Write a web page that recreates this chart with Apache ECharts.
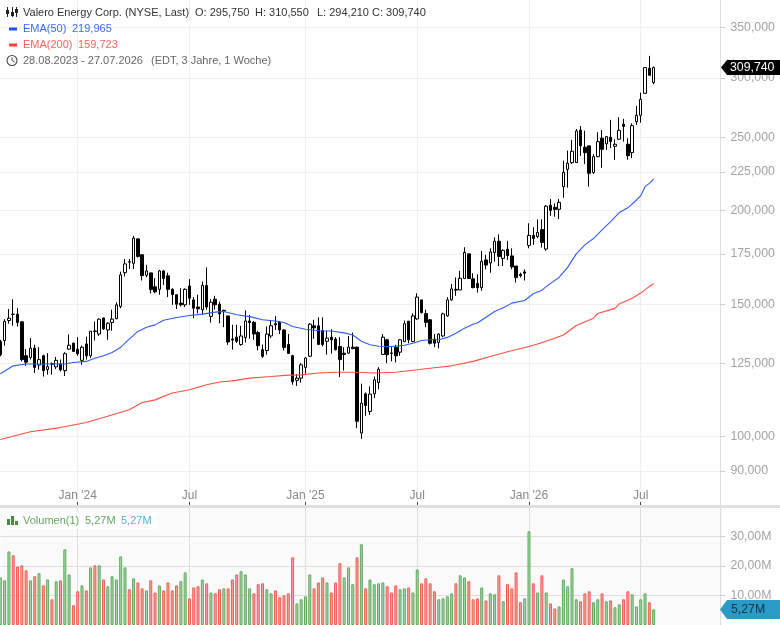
<!DOCTYPE html>
<html><head><meta charset="utf-8">
<style>html,body{margin:0;padding:0;background:#fff}#c{width:780px;height:625px}</style>
<script src="https://cdn.jsdelivr.net/npm/echarts@6/dist/echarts.min.js"></script>
</head><body><div id="c"></div>
<script>
const startDate = '2023-08-28';
const blankWeeks = 16;
// weekly candles: [open, close, low, high]
const candles = [
[133.8,128.5,127.9,134.5],[134.2,142.3,132.1,143.3],[142.7,143.7,141.3,147.8],[145.5,145.4,140.4,152.3],[145.5,141.8,140.1,148.2],
[142.1,126.6,125.9,142.4],[128.1,125.6,124.2,130.7],[127.4,131.1,126.6,135.2],[131.1,123.6,121.5,132.5],[124.5,126.6,122.7,131.5],
[128.1,122.4,120.2,128.5],[122.8,123.9,120.9,129.1],[124.8,125,120.9,125.5],[123.8,126.3,123,127.6],[124.9,122.7,122.1,126.6],
[122.4,128.9,120.4,129.5],[130.7,132.3,130.5,136.8],[133.1,129.8,129.7,133.4],[130.7,128.9,128.1,135.6],[126.3,131.5,124.6,132.1],
[132.8,128.1,126.6,135.8],[128.1,138.1,127.2,138.1],[138,138.2,134.2,142.3],[136.9,143.3,136.1,143.7],[143.8,139.1,138.6,144],
[138.6,141.5,134.5,141.9],[141.8,143.3,138.3,147.5],[143.5,149.7,143.2,150.9],[149,164.1,148.1,165.7],[165.2,169.7,163.3,172.3],
[170.6,170.8,167.1,172.3],[170,183.6,167.1,184.9],[183.2,173.6,173,183.6],[174.5,163.7,161.3,174.8],[163.9,166.1,162.9,169.2],
[165.1,156.9,155,165.2],[158.2,155.8,155.1,162.4],[157,166.1,154.4,166.6],[166.1,162.3,159.1,166.6],[163.6,157,153.3,165.2],
[157,154.5,149.7,157.5],[154.4,150,147.8,154.5],[150.5,149.7,149,157.5],[149.7,157,148.7,157.5],[158.6,152.8,149.7,162],
[152,148.2,143.7,153.3],[148.7,147.9,145.8,154.4],[147.5,158.9,145.2,160.8],[158.9,148.7,147.5,167.9],[144.5,150.9,141.8,152.3],
[152.3,149.7,147.5,153.9],[150,145.6,141.5,151.2],[147.2,146.9,139.8,147.5],[144.7,133.6,132.4,144.8],[134.8,134.4,130.5,140.8],
[135.6,133.9,133.2,140.8],[132.6,136.1,132.1,140.4],[135.4,142.5,133.4,147.2],[142.5,141.8,134.9,145.2],[141.9,136.9,134.5,142.5],
[137.5,132.1,130.2,138.3],[130.5,127.9,127.2,132.6],[130.2,136.9,128.5,140.1],[136.1,140.4,135.2,142.5],[141.3,140.8,138.6,144.7],
[141.9,138.6,136.9,142.5],[138.6,131.4,130.2,138.9],[132.6,129,128.9,136.9],[128.1,118.3,117.2,128.5],[118.8,119.6,116.8,121.1],
[119.6,124.6,118,125.2],[123.6,127.2,121.2,127.6],[127.9,141.1,127.6,141.6],[140.4,139.5,134.9,143],[140.4,132.6,132.6,144.1],
[138.3,132.6,131.8,144.1],[133.9,135.2,128.5,138.3],[135.6,134.5,128.9,138.9],[134.8,130.5,130.2,135.6],[131.8,126.6,120,135.6],
[129.1,128.6,122.4,131.5],[129.1,131.5,128.9,136.1],[131.5,130.9,130.7,137.5],[131.5,104.8,102.6,131.8],[101.1,110.8,99.3,117.6],
[114,110,106.6,114.5],[108,113.9,106.9,116.6],[114,119,112.5,120.2],[118,122.9,115.6,123.7],[128.6,135.6,128.4,136.9],
[134.5,128.5,125.2,134.9],[129.2,129,125.9,131.8],[131.5,128.1,125.5,132.5],[129.5,134.5,128.1,134.8],[133.8,141.3,133.5,142.7],
[142.4,134.5,133.1,142.4],[133.8,144.7,133.5,145.8],[143.4,153.3,143,155.1],[152,146.2,145.8,152],[145.8,141.8,139.8,147.5],
[143,133.1,132.6,143.3],[134.8,133.1,131.5,136.9],[133.4,136.9,131,137.2],[136.1,145.6,135.6,146.2],[144.7,152,144.4,153.3],
[152,157.2,151.7,159.6],[156.6,157,153.9,162.8],[156.7,162.4,156.7,166.1],[162.3,175.8,162.1,178.6],[175,162.3,162,175],
[162.1,157.8,157.5,164.9],[159.9,157.8,155.4,164.4],[157.8,171.1,156.3,176.6],[171.8,169.1,166.9,174.5],[170.2,176,165.2,178],
[175.7,181.9,170.9,184.1],[181.9,173.6,168.6,185.8],[172.6,176.9,168.6,177.5],[177.5,174.1,171.8,182.1],[173.9,168.1,166.9,178],
[168.6,162.8,160.3,168.6],[164.4,163.7,162.8,165.2],[165.6,164.9,161.3,166.9],[179.6,185.2,178,192.2],[185.2,183.4,179.9,189.9],
[184.5,186.9,183.6,194.5],[188.6,181.2,178.4,194.5],[177.6,202.5,176.7,203.3],[203.1,199.9,196.6,207],[201.8,200.5,196.1,204.2],
[200.6,204.9,194.7,207],[215,224.7,207.8,232.8],[226.7,231,214.4,240.1],[231.4,239.6,230.5,248.1],[231.4,255,231.4,256.5],
[255.7,243.6,236.2,258.9],[242.6,238.6,230.5,255.2],[243.6,224,215,243.6],[224.5,235.7,223.6,237.6],[235.7,246.8,235.3,254],
[249.4,241.1,227.8,255.7],[245.1,250.6,240.6,251.1],[250.1,246.8,241.8,263.8],[243.3,244.8,233.4,248.6],[248.6,255.5,248.1,265.9],
[260.3,258.5,246.8,264.6],[244.8,236.4,233.4,249.4],[238.6,259.2,234.6,261],[262.4,267.5,259.8,275.3],[267.5,280.9,261.6,286.8],
[286.1,309.6,286.1,309.6],[308.9,302.4,302.2,320.9],[295.75,309.74,294.21,310.55]
];
// volume in millions
const volumes = [
16.1,15.1,24.9,23.6,19.8,20.2,18.5,15.1,16.5,17.5,
13.4,15.4,8.7,14.8,15.1,25.6,17.1,6.7,11.4,13.4,
11.7,19.5,20.2,20.2,15.4,13.1,16.5,15.4,23.2,19.5,
12.1,15.8,14.4,12.4,11.7,15.1,11,13.4,11.7,14.4,
11.7,13.4,14.8,17.8,9,12.7,13.1,15.4,14.1,11,
10.7,12.1,12.4,12.4,15.4,17.1,18.2,17.1,12.4,10.7,
13.8,14.1,12.1,10.7,11.7,9.4,10,10.7,22.9,7.3,
8.7,9.7,17.1,12.4,14.4,16.1,14.4,11,14.4,20.9,
16.1,19.5,13.8,22.9,27.3,12.4,15.4,13.8,14.1,14.4,
13.1,11,13.4,12.1,12.4,12.7,11,18.8,14.1,15.8,
14.1,11.4,8.7,9,9.7,10.7,14.1,16.8,16.1,14.8,
8.7,9,12.7,8.3,10.7,10.4,16.8,8,13.8,12.4,
17.8,7.7,9,31.7,14.1,11,16.8,11,7.3,5.6,
6.3,15.4,13.1,19.2,8.7,8,10.7,11.4,7.7,8.7,
10.7,8,8.3,6,7,8.7,11.4,10.4,6.3,8.7,
10.7,7.7,5.27
];
// G = green bar, R = red bar
const volumeColors = 'GGGRRRRGRG'+'RGRGRGGRRG'+'RGRGRGGGGG'+'RGRRGRRGRR'+'RRGGRRRGRG'+'RRGRRRGGGR'+'RRGGRRRRRG'+'GGGRRRGRRR'+'GGGRGRGGGG'+'RRRGGRGGRR'+'RRGGGGRGGR'+'RRGRGGRGRR'+'RRGGRGRGRR'+'GGGGGRRRGG'+'RGRGGRRGGG'+'GRG';
// EMA readings: [week index, value]
const ema50 = [[0,121.2],[3,124.2],[6,124.9],[10,124.9],[15,124.9],[17,125.5],[20,125.9],[22,127.1],[24,128.1],[26,129.4],[28,131.5],[30,134.8],[32,138],[34,139.8],[36,140.8],[38,142.8],[41,144],[44,144.9],[47,145.5],[50,146.4],[52,146.7],[55,145.2],[58,144.4],[61,143],[64,142.5],[66,141.8],[68,140.1],[71,138.9],[74,138.3],[77,138.2],[80,137.4],[82,136.5],[84,133.9],[86,132.5],[88,131.9],[91,131.8],[94,132.3],[96,133.1],[98,134.2],[100,134.5],[102,134.5],[104,135.5],[106,137.2],[108,139.4],[110,141.1],[111,141.6],[113,144.1],[115,146.7],[117,148.4],[119,150.5],[122,151.7],[124,154.9],[126,156.6],[128,159.9],[130,162.8],[132,167.9],[134,175],[136,179.9],[138,183.4],[140,188.3],[142,193.2],[144,198.6],[146,201.5],[148,206.4],[149,209.1],[150,215],[151,217.2],[152,219.97]];
const ema200 = [[0,99.1],[7,101.5],[14,102.8],[20,104.4],[24,106],[30,108.6],[33,111],[36,111.9],[40,114.3],[44,115.4],[48,117.2],[51,118.2],[54,118.6],[58,119.6],[63,120.2],[67,120.7],[70,120.8],[74,121.5],[78,121.8],[83,121.8],[87,121.5],[92,121.8],[97,122.7],[101,123.5],[105,124.2],[110,125.9],[114,127.8],[118,129.7],[123,131.8],[125,132.8],[128,134.5],[131,136.5],[134,140.5],[138,143.7],[139,145.8],[143,148.1],[144,150.1],[147,152.8],[149,155.2],[151,158.4],[152,159.72]];
const xTickIndex = [18,44,71,97,123,149];
const xTickLabels = ["Jan '24",'Jul',"Jan '25",'Jul',"Jan '26",'Jul'];
const priceTicks = [90,100,125,150,175,200,225,250,300,350];
const volumeTicks = [10,20,30];
const lastClose = 309.74, lastVolume = 5.27;
const headerRows = [
 ['Valero Energy Corp. (NYSE, Last)',23,13,'#333'],['O: 295,750',195,13,'#333'],['H: 310,550',255,13,'#333'],['L: 294,210',317,13,'#333'],['C: 309,740',372,13,'#333'],
 ['EMA(50)',23,29,'#3d6af2'],['219,965',72,29,'#3d6af2'],
 ['EMA(200)',23,45,'#f4655c'],['159,723',78,45,'#f4655c'],
 ['28.08.2023 - 27.07.2026',23,61,'#666'],['(EDT, 3 Jahre, 1 Woche)',151,61,'#666'],
 ['Volumen(1)',23,521,'#62a862'],['5,27M',85,521,'#62a862'],['5,27M',121,521,'#4fb0d8']
];
const FONT = '"Liberation Sans", Arial, sans-serif';
const categories = [];
{ const d0 = new Date(startDate+'T00:00:00Z');
  for (let i=0;i<candles.length+blankWeeks;i++){ categories.push(new Date(d0.getTime()+i*7*864e5).toISOString().slice(0,10)); } }
const isTick = (i)=>xTickIndex.indexOf(i)>=0;
const GL=0.34, GW=722.06;
const chart = echarts.init(document.getElementById('c'),null,{renderer:'canvas'});
function txt(t,x,y,fill,size,z){return {type:'text',z:z||50,silent:true,style:{text:t,x:x,y:y,fill:fill,font:(size||11)+'px '+FONT,textVerticalAlign:'middle',textAlign:'left'}};}
function ln(x1,y1,x2,y2,c,w){return {type:'line',z:50,silent:true,shape:{x1,y1,x2,y2},style:{stroke:c,lineWidth:w||1}};}
function rc(x,y,w,h,c,z){return {type:'rect',z:z||50,silent:true,shape:{x,y,width:w,height:h},style:{fill:c}};}
let gfx=[
 rc(0,505,780,3,'#e0e0e0',40),
 rc(5,512,153,17,'#ffffff',45),
 ln(7.5,7,7.5,17,'#222'),rc(6,10,3,4,'#222'),ln(12.5,7,12.5,17,'#222'),rc(11,12,3,4,'#222'),ln(16.5,7,16.5,17,'#222'),rc(15,9,3,4,'#222'),
 rc(9,27.5,8,3,'#1f4fff'),rc(9,43.5,8,3,'#ff4433'),
 {type:'circle',z:50,silent:true,shape:{cx:12,cy:60.5,r:5},style:{fill:'none',stroke:'#444',lineWidth:1.1}},
 ln(12,57.5,12,60.5,'#444'),ln(12,60.5,14.5,62,'#444'),
 rc(7,519,3,6,'#3f8f3f'),rc(11,516,3,9,'#3f8f3f'),rc(15,521,3,4,'#3f8f3f'),
];
headerRows.forEach(r=>gfx.push(txt(r[0],r[1],r[2],r[3],11)));
chart.setOption({
 animation:false,backgroundColor:'#fff',
 grid:[{left:GL,width:GW,top:0,height:505,show:false},
       {left:GL,width:GW,top:508,height:117,show:true,backgroundColor:'#fafafa',borderWidth:0}],
 xAxis:[
  {type:'category',gridIndex:0,data:categories,boundaryGap:false,
   axisLine:{show:false},
   axisTick:{show:true,inside:true,length:3,interval:(i)=>isTick(i),lineStyle:{color:'#444'}},
   axisLabel:{show:true,inside:true,margin:3,interval:(i)=>isTick(i),color:'#888',fontSize:12,fontFamily:FONT,
      formatter:(v,i)=>{const k=xTickIndex.indexOf(i);return k>=0?xTickLabels[k]:'';}},
   splitLine:{show:true,interval:(i)=>isTick(i),lineStyle:{color:'#efefef',width:1}}},
  {type:'category',gridIndex:1,data:categories,boundaryGap:false,
   axisLine:{show:false},axisTick:{show:false},axisLabel:{show:false},
   splitLine:{show:true,interval:(i)=>isTick(i),lineStyle:{color:'#dedede',width:1}}}
 ],
 yAxis:[
  {type:'log',logBase:10,gridIndex:0,position:'right',offset:-2,min:81.1,max:380.8,
   axisLine:{show:true,lineStyle:{color:'#ddd'}},
   axisTick:{show:true,length:5,lineStyle:{color:'#ccc'},customValues:priceTicks},
   axisLabel:{show:true,margin:10,color:'#a3a3a3',fontSize:12.3,fontFamily:FONT,customValues:priceTicks,formatter:v=>Math.round(v)+',000'},
   splitLine:{show:true,lineStyle:{color:'#efefef',width:1}}},
  {type:'value',gridIndex:1,position:'right',offset:-2,min:0,max:39.6,
   axisLine:{show:true,lineStyle:{color:'#ddd'}},
   axisTick:{show:true,length:5,lineStyle:{color:'#ccc'},customValues:volumeTicks},
   axisLabel:{show:true,margin:10,color:'#a3a3a3',fontSize:12.3,fontFamily:FONT,customValues:volumeTicks,formatter:v=>Math.round(v)+',00M'},
   splitLine:{show:true,lineStyle:{color:'#dedede',width:1}}}
 ],
 series:[
  {type:'bar',xAxisIndex:1,yAxisIndex:1,barWidth:3,clip:false,
   data:volumes.map((v,i)=>{const g=volumeColors[i]==='G';return {value:v,itemStyle:{color:g?'#a3d7a3':'#f9a09b',borderColor:g?'#62a862':'#ee5e58',borderWidth:1}};})},
  {type:'candlestick',xAxisIndex:0,yAxisIndex:0,barWidth:3,clip:false,data:candles,
   itemStyle:{color:'#ffffff',color0:'#000000',borderColor:'#000000',borderColor0:'#000000',borderColorDoji:'#000000',borderWidth:1}},
  {type:'line',xAxisIndex:0,yAxisIndex:0,data:ema50,showSymbol:false,clip:false,lineStyle:{color:'#2f5cf0',width:1.1},z:3},
  {type:'line',xAxisIndex:0,yAxisIndex:0,data:ema200,showSymbol:false,clip:false,lineStyle:{color:'#ff4f40',width:1.1},z:3}
 ],
 graphic:{elements:gfx}
});
const yP=chart.convertToPixel({yAxisIndex:0},lastClose), yV=chart.convertToPixel({yAxisIndex:1},lastVolume);
gfx=gfx.concat([
 {type:'polygon',z:60,silent:true,shape:{points:[[721,yP],[727,yP-7.5],[780,yP-7.5],[780,yP+7.5],[727,yP+7.5]]},style:{fill:'#000'}},
 txt('309,740',730,yP+0.5,'#fff',12.3,61),
 {type:'polygon',z:60,silent:true,shape:{points:[[720,yV],[727,yV-9.5],[780,yV-9.5],[780,yV+9.5],[727,yV+9.5]]},style:{fill:'#2a9bc4'}},
 txt('5,27M',731,yV+0.5,'#06344a',12.3,61)
]);
chart.setOption({graphic:{elements:gfx}},{replaceMerge:['graphic']});
</script></body></html>
